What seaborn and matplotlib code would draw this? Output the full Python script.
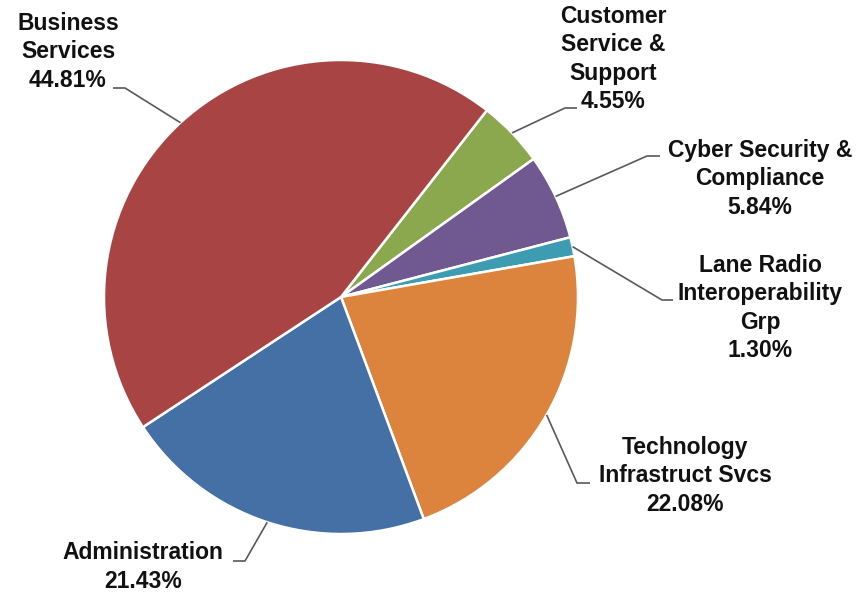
import numpy as np
import matplotlib
matplotlib.use("Agg")
import matplotlib.pyplot as plt
import seaborn as sns

# data, clockwise order starting at the green slice
categories = ["Customer\nService &\nSupport", "Cyber Security &\nCompliance",
              "Lane Radio\nInteroperability\nGrp", "Technology\nInfrastruct Svcs",
              "Administration", "Business\nServices"]
shares = [4.55, 5.84, 1.30, 22.08, 21.43, 44.81]
colors = ["#8BA84F", "#705891", "#3D9BB2", "#DC843D", "#4470A6", "#A84443"]

# label layout in pixel coords (x, y from top): text centre, elbow, line end
text_pos = [(613, 59), (760, 179), (760, 308), (685, 476), (143, 567), (68, 52)]
elbow = [(565, 108), (647, 156), (662, 300), (577, 483), (245, 561), (125, 88)]
line_end = [(577, 108), (660, 156), (673, 300), (590, 483), (233, 561), (113, 88)]

W, H = 862, 596
cx, cy, r = 341, 297, 237

sns.set_theme(style="white")
plt.rcParams['font.family'] = ['Liberation Sans', 'DejaVu Sans']

fig = plt.figure(figsize=(W / 100, H / 100), dpi=100, facecolor="white")
ax = fig.add_axes([0, 0, 1, 1])

wedges, _ = ax.pie(shares, colors=colors, startangle=52, counterclock=False,
                   center=(cx, H - cy), radius=r, frame=True,
                   wedgeprops=dict(edgecolor="white", linewidth=1.8))
ax.set_xlim(0, W)
ax.set_ylim(0, H)
ax.set_aspect("equal")
ax.axis("off")

for i, w in enumerate(wedges):
    th = np.deg2rad((w.theta1 + w.theta2) / 2)
    ex, ey = cx + r * np.cos(th), (H - cy) + r * np.sin(th)
    bx, by = elbow[i]
    lx, ly = line_end[i]
    ax.plot([ex, bx, lx], [ey, H - by, H - ly], color="#595959", lw=1.2,
            solid_capstyle="butt")
    tx, ty = text_pos[i]
    ax.text(tx, H - ty, f"{categories[i]}\n{shares[i]:.2f}%", ha="center", va="center",
            fontsize=16.5, fontweight="bold", color="#111111", linespacing=1.28)

fig.savefig("out.png", dpi=100, facecolor="white")
